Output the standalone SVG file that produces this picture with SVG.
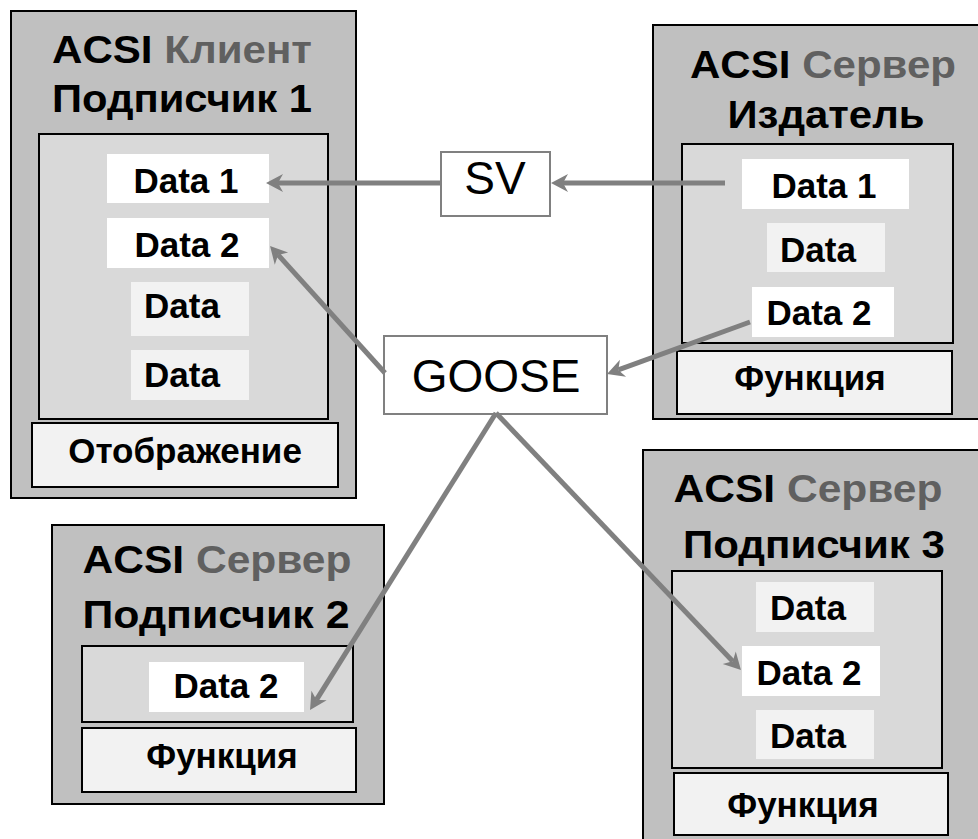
<svg xmlns="http://www.w3.org/2000/svg" width="978" height="839" viewBox="0 0 978 839">
  <style>
    .outer { fill: #c0c0c0; stroke: #000; stroke-width: 2; }
    .inner { fill: #d9d9d9; stroke: #000; stroke-width: 2; }
    .func { fill: #f2f2f2; stroke: #000; stroke-width: 2; }
    .dw { fill: #ffffff; }
    .dg { fill: #f2f2f2; }
    .msg { fill: #ffffff; stroke: #808080; stroke-width: 2; }
    .t { font-family: "Liberation Sans", Arial, sans-serif; font-weight: bold; fill: #000; text-anchor: middle; }
    .title { font-size: 39px; }
    .data { font-size: 35px; }
    .role { fill: #606060; }
    .mt { font-family: "Liberation Sans", Arial, sans-serif; font-size: 46px; fill: #000; text-anchor: middle; }
    .link { stroke: #808080; stroke-width: 5; fill: none; marker-end: url(#arrow); }
  </style>
  <defs>
    <!-- notched arrowhead; the line ends at the notch, tip sits 12px further on -->
    <marker id="arrow" viewBox="-6 -10 20 20" refX="0" refY="0" markerWidth="20" markerHeight="20" markerUnits="userSpaceOnUse" orient="auto">
      <path d="M12,0 L-5,-9 L0,0 L-5,9 Z" fill="#808080"/>
    </marker>
  </defs>

  <!-- ACSI client, subscriber 1 -->
  <g id="client-sub1">
    <rect class="outer" x="11" y="11" width="345" height="487"/>
    <text class="t title" x="182" y="63" textLength="260" lengthAdjust="spacingAndGlyphs">ACSI<tspan class="role"> Клиент</tspan></text>
    <text class="t title" x="182" y="112" textLength="260" lengthAdjust="spacingAndGlyphs">Подписчик 1</text>
    <rect class="inner" x="39" y="134" width="289" height="285"/>
    <rect class="dw" x="107" y="154" width="162" height="49"/>
    <text class="t data" x="186" y="193">Data 1</text>
    <rect class="dw" x="107" y="218" width="162" height="50"/>
    <text class="t data" x="187" y="257">Data 2</text>
    <rect class="dg" x="131" y="282" width="118" height="54"/>
    <text class="t data" x="182" y="318">Data</text>
    <rect class="dg" x="131" y="350" width="118" height="50"/>
    <text class="t data" x="182" y="387">Data</text>
    <rect class="func" x="32" y="423" width="306" height="64"/>
    <text class="t data" x="185" y="463">Отображение</text>
  </g>

  <!-- ACSI server, publisher -->
  <g id="server-publisher">
    <rect class="outer" x="653" y="25" width="340" height="394"/>
    <text class="t title" x="823" y="78" textLength="266" lengthAdjust="spacingAndGlyphs">ACSI<tspan class="role"> Сервер</tspan></text>
    <text class="t title" x="826" y="128" textLength="197" lengthAdjust="spacingAndGlyphs">Издатель</text>
    <rect class="inner" x="682" y="144" width="271" height="199"/>
    <rect class="dw" x="742" y="159" width="167" height="50"/>
    <text class="t data" x="824" y="198">Data 1</text>
    <rect class="dg" x="767" y="223" width="118" height="49"/>
    <text class="t data" x="818" y="262">Data</text>
    <rect class="dw" x="752" y="287" width="142" height="50"/>
    <text class="t data" x="819" y="325">Data 2</text>
    <rect class="func" x="677" y="351" width="275" height="63"/>
    <text class="t data" x="810" y="390">Функция</text>
  </g>

  <!-- ACSI server, subscriber 2 -->
  <g id="server-sub2">
    <rect class="outer" x="52" y="525" width="332" height="279"/>
    <text class="t title" x="217" y="573" textLength="269" lengthAdjust="spacingAndGlyphs">ACSI<tspan class="role"> Сервер</tspan></text>
    <text class="t title" x="216" y="628" textLength="267" lengthAdjust="spacingAndGlyphs">Подписчик 2</text>
    <rect class="inner" x="82" y="646" width="271" height="76"/>
    <rect class="dw" x="149" y="662" width="155" height="50"/>
    <text class="t data" x="226" y="698">Data 2</text>
    <rect class="func" x="82" y="728" width="274" height="64"/>
    <text class="t data" x="222" y="768">Функция</text>
  </g>

  <!-- ACSI server, subscriber 3 -->
  <g id="server-sub3">
    <rect class="outer" x="643" y="450" width="350" height="400"/>
    <text class="t title" x="808" y="502" textLength="269" lengthAdjust="spacingAndGlyphs">ACSI<tspan class="role"> Сервер</tspan></text>
    <text class="t title" x="814" y="558" textLength="262" lengthAdjust="spacingAndGlyphs">Подписчик 3</text>
    <rect class="inner" x="672" y="571" width="270" height="197"/>
    <rect class="dg" x="756" y="582" width="118" height="50"/>
    <text class="t data" x="808" y="620">Data</text>
    <rect class="dw" x="742" y="646" width="138" height="50"/>
    <text class="t data" x="809" y="685">Data 2</text>
    <rect class="dg" x="756" y="710" width="118" height="49"/>
    <text class="t data" x="808" y="748">Data</text>
    <rect class="func" x="674" y="773" width="274" height="62"/>
    <text class="t data" x="803" y="817">Функция</text>
  </g>

  <!-- message types -->
  <g id="sv">
    <rect class="msg" x="441" y="152" width="109" height="64"/>
    <text class="mt" x="495" y="194">SV</text>
  </g>
  <g id="goose">
    <rect class="msg" x="384" y="336" width="223" height="78"/>
    <text class="mt" x="496" y="392">GOOSE</text>
  </g>

  <!-- connectors -->
  <g id="connectors">
    <line class="link" x1="725" y1="183" x2="563" y2="183"/>
    <line class="link" x1="441" y1="183" x2="278" y2="183"/>
    <line class="link" x1="750" y1="322" x2="618.3" y2="369.9"/>
    <line class="link" x1="385" y1="373" x2="278.1" y2="254.9"/>
    <line class="link" x1="496" y1="413" x2="316.4" y2="699.8"/>
    <line class="link" x1="496" y1="413" x2="732.7" y2="661.3"/>
  </g>
</svg>
